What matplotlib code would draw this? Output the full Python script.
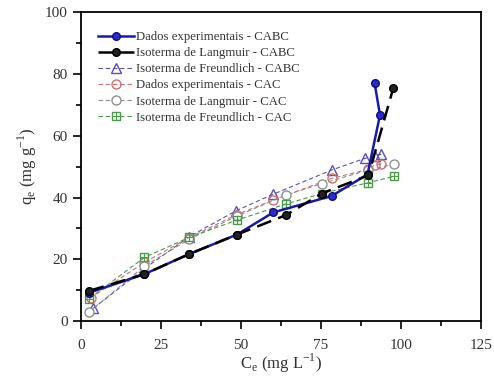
import matplotlib.pyplot as plt
from matplotlib.ticker import MultipleLocator

plt.rcParams['font.family'] = ['Liberation Serif', 'DejaVu Serif']
plt.rcParams['mathtext.fontset'] = 'custom'
plt.rcParams['mathtext.rm'] = 'Liberation Serif'

# CABC
ce_exp_cabc = [2.6, 19.8, 33.8, 48.7, 60.1, 78.3, 89.5, 93.4, 91.7]
qe_exp_cabc = [9.2, 15.2, 21.7, 28.0, 35.2, 40.5, 47.5, 66.7, 77.1]
ce_lang_cabc = [2.6, 19.8, 33.8, 48.7, 64.0, 75.2, 89.8, 97.6]
qe_lang_cabc = [9.8, 15.2, 21.7, 28.0, 34.3, 41.3, 47.2, 75.6]
ce_freu_cabc = [3.8, 19.8, 33.8, 48.4, 60.1, 78.3, 88.8, 91.7, 93.8]
qe_freu_cabc = [4.1, 17.0, 27.3, 35.7, 41.1, 48.9, 52.7, 53.4, 54.0]

# CAC
ce_exp_cac = [3.0, 19.8, 33.8, 48.7, 60.1, 78.3, 89.8, 91.7, 93.8]
qe_exp_cac = [7.5, 19.0, 27.0, 34.5, 39.2, 46.2, 49.1, 50.5, 51.0]
ce_lang_cac = [2.6, 19.8, 33.8, 48.7, 64.0, 75.2, 89.8, 97.8]
qe_lang_cac = [3.0, 17.8, 26.5, 34.0, 40.8, 44.5, 48.9, 50.8]
ce_freu_cac = [2.6, 19.8, 33.8, 48.7, 64.0, 75.2, 89.8, 97.8]
qe_freu_cac = [7.3, 20.6, 27.1, 32.7, 37.9, 41.3, 44.8, 46.9]

txt = '#333333'

fig = plt.figure(figsize=(4.94, 3.80), dpi=100)
ax = fig.add_axes([0.164, 0.155, 0.81, 0.813])

l1, = ax.plot(ce_exp_cabc, qe_exp_cabc, '-', color='#1a1aa8', lw=1.8,
              marker='o', ms=5.5, mfc='#2a2ad0', mec='#10107a', zorder=5)
l2, = ax.plot(ce_lang_cabc, qe_lang_cabc, color='black', lw=1.8,
              dashes=(6, 3), marker='o', ms=5.5, mfc='#222222', mec='black', zorder=6)
l3, = ax.plot(ce_freu_cabc, qe_freu_cabc, color='#5a50b8', lw=0.8, dashes=(4, 2.5),
              marker='^', ms=6.5, mfc='none', mec='#5a50b8', zorder=3)
l4, = ax.plot(ce_exp_cac, qe_exp_cac, color='#cc7070', lw=0.8, dashes=(4, 2.5),
              marker='o', ms=6.5, mfc='none', mec='#cc7070', zorder=3)
l5, = ax.plot(ce_lang_cac, qe_lang_cac, color='#909090', lw=0.8, dashes=(4, 2.5),
              marker='o', ms=6.5, mfc='white', mec='#909090', zorder=4)
l6, = ax.plot(ce_freu_cac, qe_freu_cac, color='#4a9a4a', lw=0.8, dashes=(4, 2.5),
              marker='s', ms=5.5, mfc='none', mec='#4a9a4a', zorder=4)
p6, = ax.plot(ce_freu_cac, qe_freu_cac, ls='none', marker='+', ms=5.5,
              mec='#4a9a4a', mew=0.8, zorder=4)

leg = ax.legend([l1, l2, l3, l4, l5, (l6, p6)],
                ['Dados experimentais - CABC', 'Isoterma de Langmuir - CABC',
                 'Isoterma de Freundlich - CABC', 'Dados experimentais - CAC',
                 'Isoterma de Langmuir - CAC', 'Isoterma de Freundlich - CAC'],
                loc='upper left', bbox_to_anchor=(0.03, 0.955), frameon=False,
                fontsize=9.2, handlelength=2.8, labelspacing=0.32,
                handletextpad=0.2, borderaxespad=0)
for t in leg.get_texts():
    t.set_color(txt)

ax.set_xlim(0, 125)
ax.set_ylim(0, 100)
ax.xaxis.set_major_locator(MultipleLocator(25))
ax.xaxis.set_minor_locator(MultipleLocator(12.5))
ax.yaxis.set_major_locator(MultipleLocator(20))
ax.yaxis.set_minor_locator(MultipleLocator(10))
ax.tick_params(which='both', direction='out', top=False, right=False,
               labelsize=11, width=1.2, labelcolor=txt)
ax.tick_params(axis='x', which='major', pad=7)
ax.tick_params(which='major', length=6)
ax.tick_params(which='minor', length=3.5)
for s in ax.spines.values():
    s.set_linewidth(1.3)

ax.set_xlabel(r'C$_\mathrm{e}$ (mg L$^\mathrm{-1}$)', fontsize=12, labelpad=0, color=txt)
ax.set_ylabel(r'q$_\mathrm{e}$ (mg g$^\mathrm{-1}$)', fontsize=12, labelpad=4, color=txt)

fig.savefig('out.png', dpi=100)
